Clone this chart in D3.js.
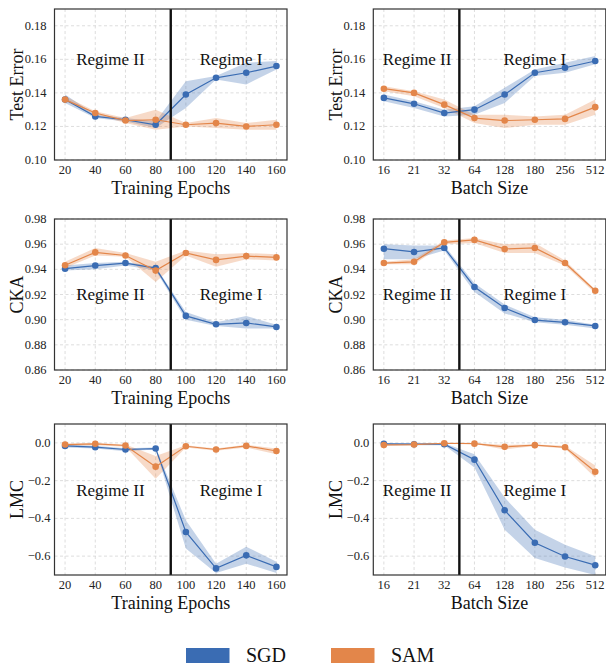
<!DOCTYPE html>
<html>
<head>
<meta charset="utf-8">
<script src="https://cdn.jsdelivr.net/npm/d3@7"></script>
<style>
  body { margin: 0; background: #fff; }
  svg { display: block; font-family: "Liberation Serif", "DejaVu Serif", serif; }
</style>
</head>
<body>
<div id="root"></div>
<script>
const epochs = [20, 40, 60, 80, 100, 120, 140, 160];
const batchSizes = ["16", "21", "32", "64", "128", "180", "256", "512"];

const errTicks = [0.10, 0.12, 0.14, 0.16, 0.18];
const ckaTicks = [0.86, 0.88, 0.90, 0.92, 0.94, 0.96, 0.98];
const lmcTicks = [-0.6, -0.4, -0.2, 0.0];

// test error vs epochs
const errEpochSGD = [0.136, 0.126, 0.124, 0.121, 0.139, 0.149, 0.152, 0.156];
const errEpochSGDLo = [0.134, 0.125, 0.123, 0.119, 0.131, 0.148, 0.145, 0.154];
const errEpochSGDHi = [0.139, 0.127, 0.125, 0.123, 0.147, 0.150, 0.158, 0.159];
const errEpochSAM = [0.136, 0.128, 0.1235, 0.124, 0.121, 0.122, 0.120, 0.121];
const errEpochSAMLo = [0.135, 0.127, 0.122, 0.118, 0.120, 0.119, 0.118, 0.118];
const errEpochSAMHi = [0.138, 0.129, 0.125, 0.130, 0.122, 0.125, 0.122, 0.124];

// test error vs batch size
const errBatchSGD = [0.137, 0.1335, 0.128, 0.130, 0.139, 0.152, 0.155, 0.159];
const errBatchSGDLo = [0.135, 0.131, 0.126, 0.127, 0.134, 0.150, 0.152, 0.157];
const errBatchSGDHi = [0.139, 0.135, 0.130, 0.132, 0.143, 0.154, 0.158, 0.162];
const errBatchSAM = [0.1425, 0.140, 0.133, 0.125, 0.1235, 0.124, 0.1245, 0.1315];
const errBatchSAMLo = [0.141, 0.138, 0.131, 0.122, 0.119, 0.121, 0.121, 0.127];
const errBatchSAMHi = [0.144, 0.141, 0.136, 0.127, 0.127, 0.126, 0.127, 0.136];

// CKA vs epochs
const ckaEpochSGD = [0.9405, 0.943, 0.945, 0.941, 0.903, 0.8963, 0.8974, 0.8942];
const ckaEpochSGDLo = [0.939, 0.940, 0.943, 0.939, 0.900, 0.895, 0.893, 0.893];
const ckaEpochSGDHi = [0.943, 0.945, 0.946, 0.942, 0.906, 0.898, 0.903, 0.896];
const ckaEpochSAM = [0.9432, 0.9535, 0.951, 0.939, 0.953, 0.9475, 0.9505, 0.9495];
const ckaEpochSAMLo = [0.941, 0.951, 0.950, 0.930, 0.951, 0.942, 0.948, 0.947];
const ckaEpochSAMHi = [0.946, 0.957, 0.953, 0.946, 0.955, 0.952, 0.953, 0.952];

// CKA vs batch size
const ckaBatchSGD = [0.9564, 0.9538, 0.957, 0.926, 0.9093, 0.8997, 0.8979, 0.895];
const ckaBatchSGDLo = [0.948, 0.948, 0.955, 0.922, 0.905, 0.898, 0.896, 0.893];
const ckaBatchSGDHi = [0.960, 0.959, 0.959, 0.929, 0.912, 0.902, 0.900, 0.896];
const ckaBatchSAM = [0.945, 0.946, 0.9615, 0.9634, 0.9562, 0.957, 0.945, 0.923];
const ckaBatchSAMLo = [0.944, 0.944, 0.960, 0.961, 0.953, 0.953, 0.943, 0.921];
const ckaBatchSAMHi = [0.946, 0.948, 0.963, 0.965, 0.960, 0.961, 0.947, 0.924];

// LMC vs epochs
const lmcEpochSGD = [-0.016, -0.023, -0.035, -0.030, -0.472, -0.665, -0.596, -0.657];
const lmcEpochSGDLo = [-0.025, -0.03, -0.045, -0.035, -0.56, -0.69, -0.64, -0.69];
const lmcEpochSGDHi = [-0.01, -0.015, -0.028, -0.025, -0.41, -0.64, -0.55, -0.63];
const lmcEpochSAM = [-0.009, -0.005, -0.014, -0.126, -0.018, -0.035, -0.016, -0.043];
const lmcEpochSAMLo = [-0.015, -0.012, -0.02, -0.19, -0.025, -0.042, -0.025, -0.06];
const lmcEpochSAMHi = [-0.005, 0.0, -0.008, -0.07, -0.012, -0.03, -0.01, -0.03];

// LMC vs batch size
const lmcBatchSGD = [-0.005, -0.007, -0.007, -0.089, -0.357, -0.529, -0.602, -0.648];
const lmcBatchSGDLo = [-0.012, -0.012, -0.012, -0.13, -0.46, -0.61, -0.66, -0.70];
const lmcBatchSGDHi = [0.0, -0.002, -0.002, -0.06, -0.29, -0.46, -0.54, -0.60];
const lmcBatchSAM = [-0.011, -0.009, -0.002, -0.004, -0.021, -0.012, -0.023, -0.153];
const lmcBatchSAMLo = [-0.015, -0.013, -0.005, -0.006, -0.035, -0.016, -0.03, -0.185];
const lmcBatchSAMHi = [-0.007, -0.005, 0.0, -0.002, -0.01, -0.008, -0.015, -0.12];

const methods = ["SGD", "SAM"];
const colors = { SGD: "#3a6cb3", SAM: "#e3864a" };

function series(xs, sgd, sgdLo, sgdHi, sam, samLo, samHi) {
  return [
    { name: "SGD", pts: xs.map((x, i) => ({ x, y: sgd[i], lo: sgdLo[i], hi: sgdHi[i] })) },
    { name: "SAM", pts: xs.map((x, i) => ({ x, y: sam[i], lo: samLo[i], hi: samHi[i] })) },
  ];
}

const panels = [
  { row: 0, col: 0, batch: false, ylabel: "Test Error", domain: [0.10, 0.19], ticks: errTicks, fmt: ".2f", regimeY: 0.16,
    data: series(epochs, errEpochSGD, errEpochSGDLo, errEpochSGDHi, errEpochSAM, errEpochSAMLo, errEpochSAMHi) },
  { row: 0, col: 1, batch: true, ylabel: "Test Error", domain: [0.10, 0.19], ticks: errTicks, fmt: ".2f", regimeY: 0.16,
    data: series(batchSizes, errBatchSGD, errBatchSGDLo, errBatchSGDHi, errBatchSAM, errBatchSAMLo, errBatchSAMHi) },
  { row: 1, col: 0, batch: false, ylabel: "CKA", domain: [0.86, 0.98], ticks: ckaTicks, fmt: ".2f", regimeY: 0.92,
    data: series(epochs, ckaEpochSGD, ckaEpochSGDLo, ckaEpochSGDHi, ckaEpochSAM, ckaEpochSAMLo, ckaEpochSAMHi) },
  { row: 1, col: 1, batch: true, ylabel: "CKA", domain: [0.86, 0.98], ticks: ckaTicks, fmt: ".2f", regimeY: 0.92,
    data: series(batchSizes, ckaBatchSGD, ckaBatchSGDLo, ckaBatchSGDHi, ckaBatchSAM, ckaBatchSAMLo, ckaBatchSAMHi) },
  { row: 2, col: 0, batch: false, ylabel: "LMC", domain: [-0.7, 0.1], ticks: lmcTicks, fmt: ".1f", regimeY: -0.25,
    data: series(epochs, lmcEpochSGD, lmcEpochSGDLo, lmcEpochSGDHi, lmcEpochSAM, lmcEpochSAMLo, lmcEpochSAMHi) },
  { row: 2, col: 1, batch: true, ylabel: "LMC", domain: [-0.7, 0.1], ticks: lmcTicks, fmt: ".1f", regimeY: -0.25,
    data: series(batchSizes, lmcBatchSGD, lmcBatchSGDLo, lmcBatchSGDHi, lmcBatchSAM, lmcBatchSAMLo, lmcBatchSAMHi) },
];

const width = 606;
const height = 666;
const panelW = 232.5;
const panelH = 151;
const colLeft = [54.5, 373.3];
const rowTop = [9, 219, 424];

const svg = d3.select("#root").append("svg")
  .attr("width", width)
  .attr("height", height);

panels.forEach((p, k) => drawPanel(p, k));

function drawPanel(p, k) {
  const g = svg.append("g")
    .attr("transform", `translate(${colLeft[p.col]}, ${rowTop[p.row]})`);

  const x = p.batch
    ? d3.scalePoint(batchSizes, [0, panelW]).padding(0.35)
    : d3.scaleLinear([13, 167], [0, panelW]);
  const y = d3.scaleLinear(p.domain, [panelH, 0]);
  const xTicks = p.batch ? batchSizes : epochs;

  g.append("clipPath")
    .attr("id", `clip${k}`)
    .append("rect")
    .attr("width", panelW)
    .attr("height", panelH);

  // grid
  g.append("g").selectAll("line")
    .data(xTicks)
    .join("line")
    .attr("x1", d => x(d))
    .attr("x2", d => x(d))
    .attr("y1", 0)
    .attr("y2", panelH)
    .attr("stroke", "#d4d4d4")
    .attr("stroke-width", 0.8)
    .attr("stroke-dasharray", "3,2.5");

  g.append("g").selectAll("line")
    .data(p.ticks)
    .join("line")
    .attr("x1", 0)
    .attr("x2", panelW)
    .attr("y1", d => y(d))
    .attr("y2", d => y(d))
    .attr("stroke", "#d4d4d4")
    .attr("stroke-width", 0.8)
    .attr("stroke-dasharray", "3,2.5");

  const plot = g.append("g").attr("clip-path", `url(#clip${k})`);

  const area = d3.area()
    .x(d => x(d.x))
    .y0(d => y(d.lo))
    .y1(d => y(d.hi));

  const line = d3.line()
    .x(d => x(d.x))
    .y(d => y(d.y));

  plot.selectAll("path.band")
    .data(p.data)
    .join("path")
    .attr("class", "band")
    .attr("d", d => area(d.pts))
    .attr("fill", d => colors[d.name])
    .attr("fill-opacity", 0.3);

  const s = plot.selectAll("g.series")
    .data(p.data)
    .join("g")
    .attr("class", "series");

  s.append("path")
    .attr("d", d => line(d.pts))
    .attr("fill", "none")
    .attr("stroke", d => colors[d.name])
    .attr("stroke-width", 1.2);

  s.selectAll("circle")
    .data(d => d.pts.map(pt => ({ ...pt, name: d.name })))
    .join("circle")
    .attr("cx", d => x(d.x))
    .attr("cy", d => y(d.y))
    .attr("r", 3.3)
    .attr("fill", d => colors[d.name]);

  // regime divider
  const divX = p.batch ? (x("32") + x("64")) / 2 : x(90);
  g.append("line")
    .attr("x1", divX)
    .attr("x2", divX)
    .attr("y1", 0)
    .attr("y2", panelH)
    .attr("stroke", "#111")
    .attr("stroke-width", 2.4);

  const regimes = p.batch
    ? [{ text: "Regime II", x: x("16") + 1.1 * x.step() }, { text: "Regime I", x: x("16") + 5 * x.step() }]
    : [{ text: "Regime II", x: x(50) }, { text: "Regime I", x: x(130) }];

  g.selectAll("text.regime")
    .data(regimes)
    .join("text")
    .attr("class", "regime")
    .attr("x", d => d.x)
    .attr("y", y(p.regimeY))
    .attr("dy", "0.35em")
    .attr("text-anchor", "middle")
    .attr("font-size", 17)
    .attr("fill", "#111")
    .text(d => d.text);

  // frame
  g.append("rect")
    .attr("width", panelW)
    .attr("height", panelH)
    .attr("fill", "none")
    .attr("stroke", "#333")
    .attr("stroke-width", 1.2);

  // tick labels
  g.selectAll("text.xtick")
    .data(xTicks)
    .join("text")
    .attr("class", "xtick")
    .attr("x", d => x(d))
    .attr("y", panelH + 5)
    .attr("dy", "0.71em")
    .attr("text-anchor", "middle")
    .attr("font-size", 12.5)
    .attr("fill", "#222")
    .text(d => d);

  const fmt = d3.format(p.fmt);
  g.selectAll("text.ytick")
    .data(p.ticks)
    .join("text")
    .attr("class", "ytick")
    .attr("x", p.row === 2 ? -4 : -8)
    .attr("y", d => y(d))
    .attr("dy", "0.32em")
    .attr("text-anchor", "end")
    .attr("font-size", 12.5)
    .attr("fill", "#222")
    .text(d => fmt(d));

  g.append("text")
    .attr("x", panelW / 2)
    .attr("y", panelH + 33.5)
    .attr("text-anchor", "middle")
    .attr("font-size", 18)
    .attr("fill", "#111")
    .text(p.batch ? "Batch Size" : "Training Epochs");

  g.append("text")
    .attr("transform", `translate(-37.5, ${panelH / 2}) rotate(-90)`)
    .attr("dy", "0.35em")
    .attr("text-anchor", "middle")
    .attr("font-size", 18)
    .attr("fill", "#111")
    .text(p.ylabel);
}

// legend
const legendX = [186, 331];
const legend = svg.append("g")
  .attr("transform", "translate(0, 648)");

const items = legend.selectAll("g")
  .data(methods)
  .join("g")
  .attr("transform", (d, i) => `translate(${legendX[i]}, 0)`);

items.append("rect")
  .attr("width", 43.5)
  .attr("height", 15)
  .attr("fill", d => colors[d]);

items.append("text")
  .attr("x", 60)
  .attr("y", 13.5)
  .attr("font-size", 20)
  .attr("fill", "#111")
  .text(d => d);
</script>
</body>
</html>
